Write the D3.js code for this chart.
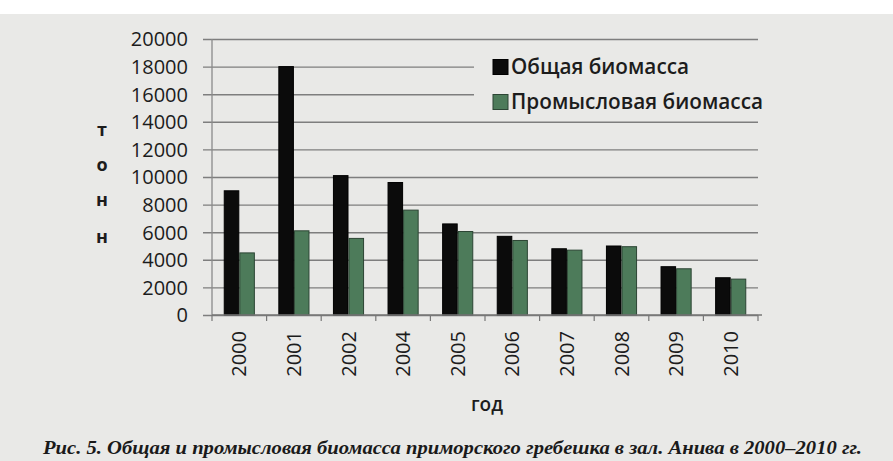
<!DOCTYPE html>
<html><head><meta charset="utf-8">
<script src="https://cdn.jsdelivr.net/npm/d3@7"></script>
<style>body{margin:0;background:#fff;}svg{display:block;}</style>
</head><body>
<svg id="c" width="893" height="461"></svg>
<script>
const years = ["2000","2001","2002","2004","2005","2006","2007","2008","2009","2010"];
const totalBiomass = [9000,18000,10100,9600,6600,5700,4800,5000,3500,2700];
const commercialBiomass = [4500,6100,5550,7600,6050,5400,4700,4950,3350,2600];
const seriesNames = ["Общая биомасса","Промысловая биомасса"];
const yTicks = [0,2000,4000,6000,8000,10000,12000,14000,16000,18000,20000];
const yLetters = ["т","о","н","н"];
const xTitle = "год";
const caption = "Рис. 5. Общая и промысловая биомасса приморского гребешка в зал. Анива в 2000–2010 гг.";

const svg = d3.select("#c");
svg.append("rect").attr("x",0).attr("y",14).attr("width",893).attr("height",447).attr("fill","#e9e9e7");

const L=212, R=758, T=39, B=315;
const y = d3.scaleLinear().domain([0,20000]).range([B,T]);
const x0 = d3.scaleBand().domain(years).range([L,R]).paddingInner(0.43).paddingOuter(0.215);
const x1 = d3.scaleBand().domain([0,1]).range([0,x0.bandwidth()]);
const colors = ["#0b0b0b","#4d7b5a"];
const strokes = ["#000","#2c4534"];

const yAxis = d3.axisLeft(y).tickValues(yTicks).tickSize(-(R-L)).tickSizeOuter(0).tickPadding(24).tickFormat(d3.format("d"));
const gy = svg.append("g").attr("transform",`translate(${L},0)`).call(yAxis);
gy.select(".domain").remove();
gy.selectAll(".tick line").attr("stroke","#7e7e7e").attr("stroke-width",1.4).attr("x1",-9);
gy.selectAll(".tick text").attr("font-family","Open Sans").attr("font-size",20).attr("fill","#1c1c1c").attr("dy","0.34em");
svg.append("line").attr("x1",L).attr("x2",L).attr("y1",T).attr("y2",B).attr("stroke","#8a8a8a").attr("stroke-width",1.3);

svg.append("rect").attr("x",474).attr("y",48).attr("width",310).attr("height",68).attr("fill","#e9e9e7");

const data = years.map((yr,i)=>({yr, vals:[totalBiomass[i],commercialBiomass[i]]}));
const g = svg.append("g").selectAll("g").data(data).join("g").attr("transform",d=>`translate(${x0(d.yr)},0)`);
g.selectAll("rect").data(d=>d.vals.map((v,k)=>({v,k}))).join("rect")
  .attr("x",d=>x1(d.k)+0.5).attr("width",x1.bandwidth()-1)
  .attr("y",d=>y(d.v)).attr("height",d=>B-y(d.v))
  .attr("fill",d=>colors[d.k]).attr("stroke",d=>strokes[d.k]).attr("stroke-width",1);

const step = x0.step();
svg.append("line").attr("x1",L).attr("x2",R+4).attr("y1",B).attr("y2",B).attr("stroke","#777").attr("stroke-width",1.4);
svg.append("g").selectAll("line").data(d3.range(years.length+1)).join("line")
  .attr("x1",i=>L+i*step).attr("x2",i=>L+i*step).attr("y1",B).attr("y2",B+6).attr("stroke","#777").attr("stroke-width",1.2);
svg.append("g").selectAll("text").data(years).join("text")
  .attr("transform",d=>`translate(${x0(d)+x0.bandwidth()/2},${B+16}) rotate(-90)`)
  .attr("text-anchor","end").attr("dy","0.35em")
  .attr("font-family","Open Sans").attr("font-size",20).attr("fill","#1c1c1c").text(d=>d);

svg.append("text").attr("x",487).attr("y",411).attr("text-anchor","middle")
  .attr("font-family","Open Sans").attr("font-size",19).attr("font-weight",600).attr("fill","#1c1c1c").text(xTitle);

svg.append("g").selectAll("text").data(yLetters).join("text")
  .attr("x",102).attr("y",(d,i)=>[130,165,200,237][i]).attr("dy","0.35em").attr("text-anchor","middle")
  .attr("font-family","Open Sans").attr("font-size",18).attr("font-weight",700).attr("fill","#1c1c1c").text(d=>d);

const lg = svg.append("g").selectAll("g").data(seriesNames).join("g")
  .attr("transform",(d,i)=>`translate(493,${67+i*35})`);
lg.append("rect").attr("x",0).attr("y",-7.5).attr("width",15).attr("height",15)
  .attr("fill",(d,i)=>colors[i]).attr("stroke",(d,i)=>strokes[i]);
lg.append("text").attr("x",18).attr("dy","0.35em").attr("font-family","Open Sans").attr("font-size",21).attr("font-weight",600)
  .attr("fill","#1c1c1c").attr("textLength",(d,i)=>[178,252][i]).attr("lengthAdjust","spacingAndGlyphs").text(d=>d);

svg.append("text").attr("x",43).attr("y",454).attr("font-family","Liberation Serif").attr("font-size",18)
  .attr("font-style","italic").attr("font-weight",700).attr("fill","#1a1a1a").attr("textLength",819).attr("lengthAdjust","spacingAndGlyphs")
  .text(caption);
</script>
</body></html>
